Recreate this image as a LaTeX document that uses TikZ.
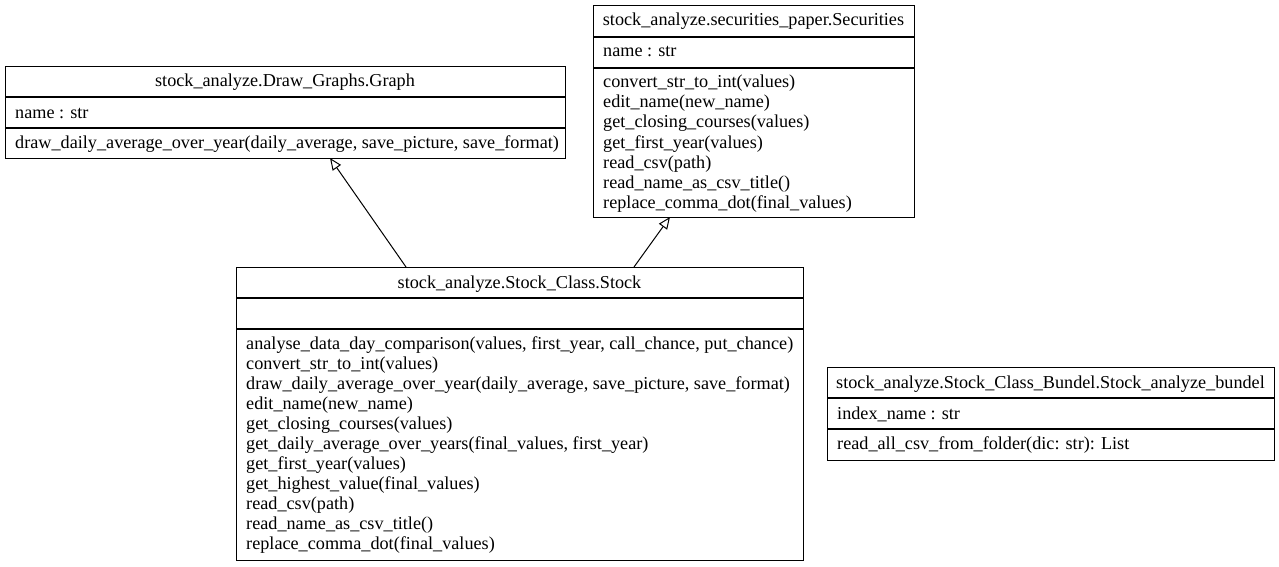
\documentclass[tikz,border=0pt]{standalone}
\usepackage{fontspec}
\setmainfont{Liberation Serif}
\usetikzlibrary{arrows.meta}
\begin{document}
\begin{tikzpicture}[x=1pt,y=-1pt,
  box/.style={draw, line width=1.1pt, inner sep=0pt, anchor=north west},
  sep/.style={line width=1.1pt},
  ttl/.style={inner sep=0pt, anchor=base, font=\fontsize{18.2}{20}\selectfont},
  ln/.style={inner sep=0pt, anchor=base west, font=\fontsize{18.2}{20}\selectfont},
  inh/.style={line width=1pt, -{Triangle[open, length=12pt, width=10pt]}}]
\useasboundingbox (0,0) rectangle (1279,567);
% Graph
\node[box, minimum width=560pt, minimum height=92pt] (graph) at (5,66) {};
\draw[sep] (5,97) -- (565,97) (5,128) -- (565,128);
\node[ttl] (graphT) at (285,87) {stock\_analyze.Draw\_Graphs.Graph};
\node[ln] (graphA) at (15,118) {name : str};
\node[ln] (graphM) at (15,148) {draw\_daily\_average\_over\_year(daily\_average, save\_picture, save\_format)};
% Securities
\node[box, minimum width=321pt, minimum height=212pt] (sec) at (593,5) {};
\draw[sep] (593,37) -- (914,37) (593,68) -- (914,68);
\node[ttl] (secT) at (753.5,26) {stock\_analyze.securities\_paper.Securities};
\node[ln] (secA) at (603,57) {name : str};
\foreach \t [count=\i from 0] in {{convert\_str\_to\_int(values)},{edit\_name(new\_name)},{get\_closing\_courses(values)},{get\_first\_year(values)},{read\_csv(path)},{read\_name\_as\_csv\_title()},{replace\_comma\_dot(final\_values)}}
  \node[ln] (secM\i) at (603,88+20*\i) {\t};
% Stock
\node[box, minimum width=567pt, minimum height=293pt] (stock) at (236,267) {};
\draw[sep] (236,298) -- (803,298) (236,329) -- (803,329);
\node[ttl] (stockT) at (519.5,288) {stock\_analyze.Stock\_Class.Stock};
\foreach \t [count=\i from 0] in {{analyse\_data\_day\_comparison(values, first\_year, call\_chance, put\_chance)},{convert\_str\_to\_int(values)},{draw\_daily\_average\_over\_year(daily\_average, save\_picture, save\_format)},{edit\_name(new\_name)},{get\_closing\_courses(values)},{get\_daily\_average\_over\_years(final\_values, first\_year)},{get\_first\_year(values)},{get\_highest\_value(final\_values)},{read\_csv(path)},{read\_name\_as\_csv\_title()},{replace\_comma\_dot(final\_values)}}
  \node[ln] (stockM\i) at (246,349+20*\i) {\t};
% Bundel
\node[box, minimum width=447pt, minimum height=93pt] (bun) at (827,367) {};
\draw[sep] (827,398) -- (1274,398) (827,429) -- (1274,429);
\node[ttl] (bunT) at (1050.5,388) {stock\_analyze.Stock\_Class\_Bundel.Stock\_analyze\_bundel};
\node[ln] (bunA) at (837,419) {index\_name : str};
\node[ln] (bunM) at (837,449) {read\_all\_csv\_from\_folder(dic: str): List};
% inheritance
\coordinate (s1) at (406,267);
\coordinate (g1) at (330,158);
\coordinate (s2) at (634,267);
\coordinate (c2) at (670,217);
\draw[inh] (s1) -- (g1);
\draw[inh] (s2) -- (c2);
\end{tikzpicture}
\end{document}
